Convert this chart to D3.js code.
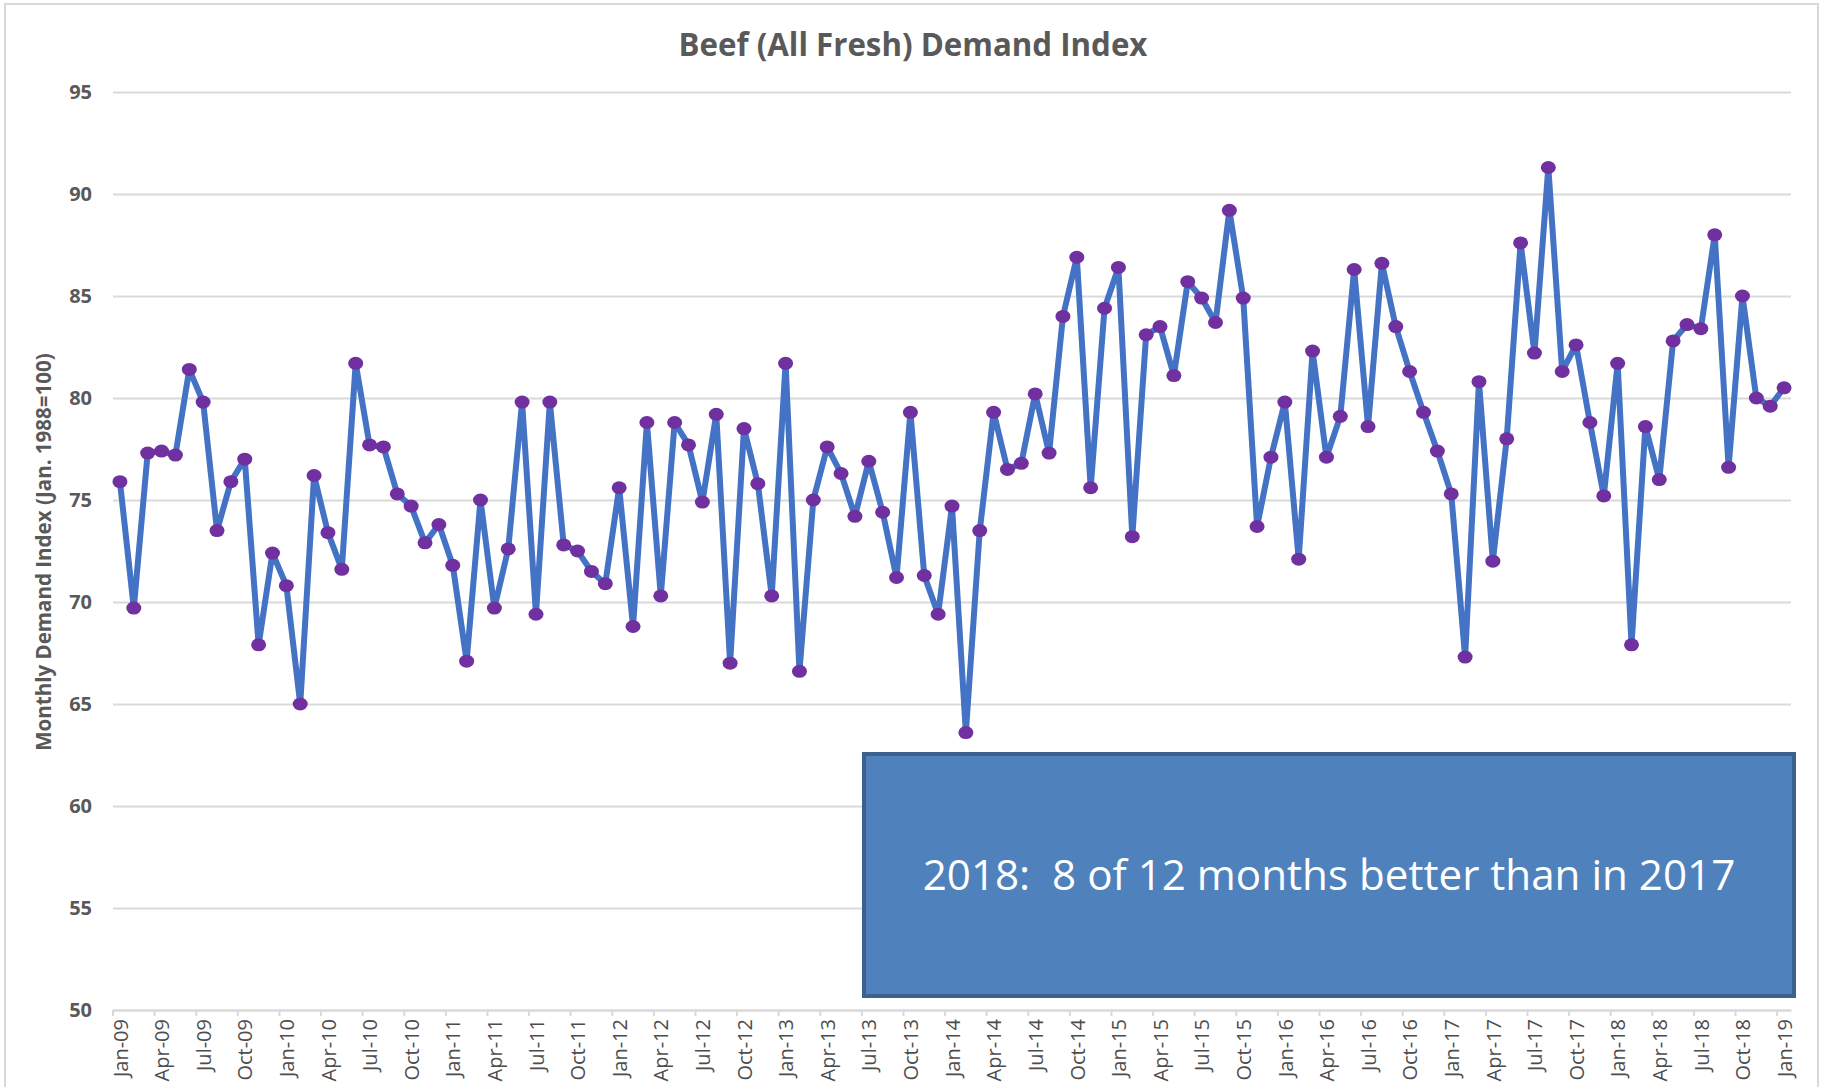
<!DOCTYPE html>
<html lang="en">
<head>
    <meta charset="UTF-8" />
    <title>Beef (All Fresh) Demand Index</title>
    <script src="https://d3js.org/d3.v7.min.js"></script>
    <style>
        body { margin: 0; background: #fff; }
        text { font-family: "Open Sans", "Liberation Sans", sans-serif; }
    </style>
</head>
<body>
    <div class="canvas"></div>

    <script>
        /* data: monthly demand index, Jan-09 .. Jan-19 */
        const demandIndex = [
            75.9, 69.7, 77.3, 77.4, 77.2, 81.4, 79.8, 73.5, 75.9, 77.0, 67.9, 72.4, // 2009
            70.8, 65.0, 76.2, 73.4, 71.6, 81.7, 77.7, 77.6, 75.3, 74.7, 72.9, 73.8, // 2010
            71.8, 67.1, 75.0, 69.7, 72.6, 79.8, 69.4, 79.8, 72.8, 72.5, 71.5, 70.9, // 2011
            75.6, 68.8, 78.8, 70.3, 78.8, 77.7, 74.9, 79.2, 67.0, 78.5, 75.8, 70.3, // 2012
            81.7, 66.6, 75.0, 77.6, 76.3, 74.2, 76.9, 74.4, 71.2, 79.3, 71.3, 69.4, // 2013
            74.7, 63.6, 73.5, 79.3, 76.5, 76.8, 80.2, 77.3, 84.0, 86.9, 75.6, 84.4, // 2014
            86.4, 73.2, 83.1, 83.5, 81.1, 85.7, 84.9, 83.7, 89.2, 84.9, 73.7, 77.1, // 2015
            79.8, 72.1, 82.3, 77.1, 79.1, 86.3, 78.6, 86.6, 83.5, 81.3, 79.3, 77.4, // 2016
            75.3, 67.3, 80.8, 72.0, 78.0, 87.6, 82.2, 91.3, 81.3, 82.6, 78.8, 75.2, // 2017
            81.7, 67.9, 78.6, 76.0, 82.8, 83.6, 83.4, 88.0, 76.6, 85.0, 80.0, 79.6, // 2018
            80.5                                                                    // 2019
        ];
        // category labels Jan-09 .. Jan-19
        const months = d3.timeMonth.range(new Date(2009, 0, 1), new Date(2019, 1, 1))
            .map(d3.timeFormat("%b-%y"));
        const xTickLabels = months.filter((m, i) => i % 3 === 0);
        const yTicks = [50, 55, 60, 65, 70, 75, 80, 85, 90, 95];

        const title = "Beef (All Fresh) Demand Index";
        const yTitle = "Monthly Demand Index (Jan. 1988=100)";
        const note = "2018:  8 of 12 months better than in 2017";

        /* svg size */
        const width = 1825, height = 1087;
        const plot = { left: 113, right: 1791, top: 92, bottom: 1010 };

        const svg = d3.select(".canvas").append("svg")
            .attr("width", width)
            .attr("height", height);

        // chart frame
        svg.append("rect")
            .attr("x", 5).attr("y", 4)
            .attr("width", 1813).attr("height", 1100)
            .attr("fill", "#fff")
            .attr("stroke", "#d9d9d9")
            .attr("stroke-width", 2);

        // fit a text to a given width by scaling its font size
        function fitWidth(sel, target) {
            const w = sel.node().getComputedTextLength();
            sel.attr("font-size", parseFloat(sel.attr("font-size")) * target / w);
        }

        /* scales */
        const x = d3.scalePoint()
            .domain(months)
            .range([plot.left, plot.right])
            .padding(0.5);

        const y = d3.scaleLinear()
            .domain([50, 95])
            .range([plot.bottom, plot.top]);

        /* y axis + gridlines */
        const yAxis = svg.append("g")
            .attr("transform", `translate(${plot.left},0)`)
            .call(d3.axisLeft(y).tickValues(yTicks)
                .tickSize(-(plot.right - plot.left))
                .tickPadding(21));
        yAxis.select(".domain").remove();
        yAxis.selectAll(".tick line").attr("stroke", "#d9d9d9").attr("stroke-width", 2);
        yAxis.selectAll(".tick text")
            .attr("font-family", "'Open Sans', sans-serif")
            .attr("font-size", 20)
            .attr("font-weight", "bold")
            .attr("fill", "#595959");

        /* x axis */
        const xAxis = svg.append("g")
            .attr("transform", `translate(0,${plot.bottom})`)
            .call(d3.axisBottom(x).tickValues(xTickLabels).tickSize(0));
        xAxis.select(".domain").attr("stroke", "#d9d9d9").attr("stroke-width", 2);
        xAxis.selectAll(".tick text")
            .attr("font-family", "'Open Sans', sans-serif")
            .attr("font-size", 20)
            .attr("fill", "#4d4d4d")
            .attr("transform", "rotate(-90)")
            .attr("text-anchor", "end")
            .attr("x", -9)
            .attr("y", 0)
            .attr("dy", "0.36em");

        // tick marks sit between categories, every 3 months
        xAxis.selectAll(".cat-tick")
            .data(xTickLabels)
            .enter()
            .append("line")
            .attr("class", "cat-tick")
            .attr("x1", (d) => x(d) - x.step() / 2)
            .attr("x2", (d) => x(d) - x.step() / 2)
            .attr("y1", 0)
            .attr("y2", 6)
            .attr("stroke", "#d9d9d9")
            .attr("stroke-width", 2);

        /* line + markers */
        const line = d3.line()
            .x((d, i) => x(months[i]))
            .y((d) => y(d));

        svg.append("path")
            .datum(demandIndex)
            .attr("d", line)
            .attr("fill", "none")
            .attr("stroke", "#4472c4")
            .attr("stroke-width", 6)
            .attr("stroke-linejoin", "round");

        svg.selectAll(".dot")
            .data(demandIndex)
            .enter()
            .append("ellipse")
            .attr("class", "dot")
            .attr("cx", (d, i) => x(months[i]))
            .attr("cy", (d) => y(d))
            .attr("rx", 7.5)
            .attr("ry", 6.5)
            .attr("fill", "#7030a0");

        /* titles */
        const titleText = svg.append("text")
            .attr("x", 913).attr("y", 56)
            .attr("text-anchor", "middle")
            .attr("font-size", 26)
            .attr("font-weight", "bold")
            .attr("fill", "#595959")
            .text(title);
        fitWidth(titleText, 469);

        const yTitleText = svg.append("text")
            .attr("transform", "translate(44,552) rotate(-90)")
            .attr("text-anchor", "middle")
            .attr("dy", "0.35em")
            .attr("font-size", 19)
            .attr("font-weight", "bold")
            .attr("fill", "#595959")
            .text(yTitle);
        fitWidth(yTitleText, 398);

        /* annotation box */
        svg.append("rect")
            .attr("x", 864).attr("y", 754)
            .attr("width", 930).attr("height", 242)
            .attr("fill", "#4f81bd")
            .attr("stroke", "#3a6190")
            .attr("stroke-width", 4);

        const noteText = svg.append("text")
            .attr("x", 1329).attr("y", 875)
            .attr("dy", "0.35em")
            .attr("text-anchor", "middle")
            .attr("font-size", 40)
            .attr("fill", "#fff")
            .style("white-space", "pre")
            .text(note);
        fitWidth(noteText, 813);
    </script>
</body>
</html>
